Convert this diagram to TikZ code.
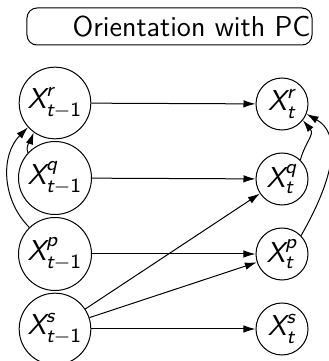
\documentclass[tikz,border=0pt]{standalone}
\usepackage{amsmath}
\usetikzlibrary{arrows.meta}
% sans-serif italic letters inside math
\newcommand{\sfi}[1]{\text{\sffamily\itshape #1}}
\newcommand{\sfu}[1]{\text{\sffamily #1}}
\newcommand{\varX}[2]{$\sfi{X}^{\sfi{#1}}_{#2}$}
\newcommand{\prev}{\sfi{t}-\sfu{1}}
\begin{document}
\begin{tikzpicture}[x=0.4pt,y=0.4pt,
  font=\fontsize{11.5}{14}\sffamily,
  var/.style={circle,draw,line width=0.4pt,inner sep=1.3pt,minimum size=20.8pt},
  link/.style={-{Latex[length=4.8pt,width=3pt]},line width=0.4pt}]
\useasboundingbox (0,0) rectangle (328,361);

% title box
\node[draw,rounded corners=4pt,line width=0.4pt,minimum width=114pt,minimum height=14.8pt,inner sep=0pt]
  (titlebox) at (169.5,334.5) {};
\node[anchor=east,inner sep=0pt] (title) at (311,334) {Orientation with PC};

% variables at time t-1
\node[var] (r0) at (55,258) {\varX{r}{\prev}};
\node[var] (q0) at (55,183) {\varX{q}{\prev}};
\node[var] (p0) at (55,107) {\varX{p}{\prev}};
\node[var] (s0) at (55,32)  {\varX{s}{\prev}};

% variables at time t
\node[var] (r1) at (282,257) {\varX{r}{\sfi{t}}};
\node[var] (q1) at (282,182) {\varX{q}{\sfi{t}}};
\node[var] (p1) at (282,107) {\varX{p}{\sfi{t}}};
\node[var] (s1) at (282,32)  {\varX{s}{\sfi{t}}};

% lagged links
\draw[link] (r0) -- (r1);
\draw[link] (q0) -- (q1);
\draw[link] (p0) -- (p1);
\draw[link] (s0) -- (s1);
\draw[link] (s0) -- (q1);
\draw[link] (s0) -- (p1);

% contemporaneous links
\draw[link] (q0.137) to[out=110,in=250] (r0.234);
\draw[link] (p0.134) to[out=135,in=225] (r0.222);
\draw[link] (q1.46) to[out=75,in=-50,looseness=1.2] (r1.-38);
\draw[link] (p1.44) to[out=60,in=-30] (r1.-22);
\end{tikzpicture}
\end{document}
